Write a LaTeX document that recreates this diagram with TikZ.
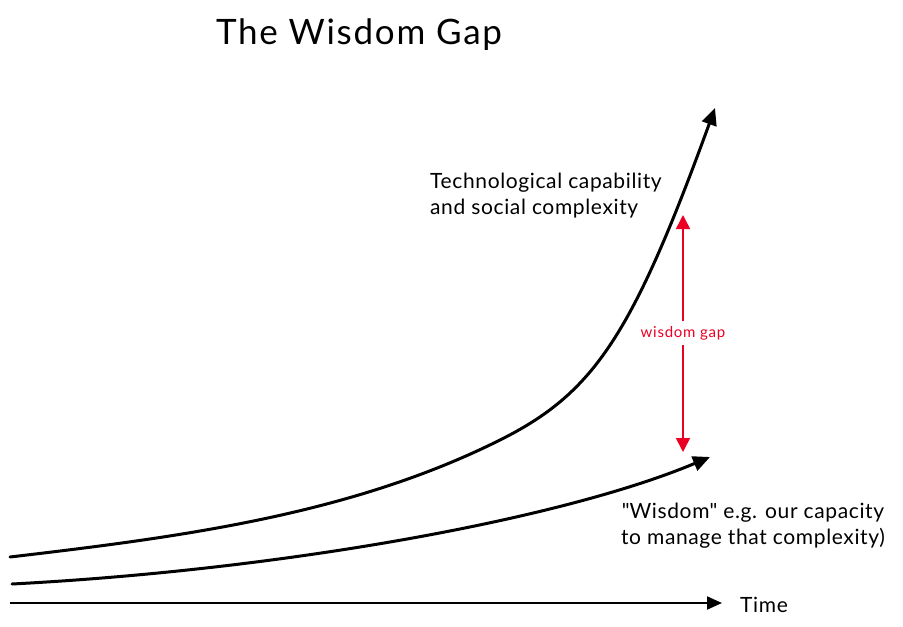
\documentclass[tikz,border=0pt]{standalone}
\usepackage{fontspec}
\setmainfont{Lato}
\usepackage{tikz}
\usetikzlibrary{arrows.meta}
\definecolor{gapred}{RGB}{235,0,35}
\tikzset{
  hand_text/.style = {inner sep=0pt,
    font=\addfontfeature{LetterSpace=3}\fontsize{21}{26}\selectfont},
  title_text/.style = {inner sep=0pt,
    font=\addfontfeature{LetterSpace=5}\fontsize{35}{40}\selectfont},
  gap_text/.style = {inner xsep=2pt, inner ysep=5pt, text=gapred,
    font=\addfontfeature{LetterSpace=5}\fontsize{15}{17}\selectfont},% libelle rouge
  trend_line/.style = {line width=3pt, line cap=round,
    -{Triangle[length=17pt,width=15pt]}},
  axis_line/.style = {line width=2pt, -{Triangle[length=15pt,width=13pt]}},
  gap_line/.style = {gapred, line width=1.6pt,
    -{Triangle[length=14pt,width=14pt]}}% ecart rouge
}

\begin{document}
\begin{tikzpicture}[x=1pt, y=-1pt]
  \useasboundingbox (0,0) rectangle (903,627);
  \node [title_text] (title) at (359,35) {The Wisdom Gap};
  % courbes
  \coordinate (tech_start) at (10,557);
  \coordinate (tech_bend) at (500,440);
  \coordinate (tech_end) at (715,108);
  \coordinate (wis_start) at (12,584);
  \coordinate (wis_end) at (710,457);
  \coordinate (time_start) at (10,603);
  \coordinate (time_end) at (722,603);
  \draw [trend_line] (tech_start) .. controls (180,537) and (350,515) .. (tech_bend)
      .. controls (594,393) and (632,336) .. (tech_end);
  \draw [trend_line] (wis_start) .. controls (280,570) and (560,520) .. (wis_end);
  \draw [axis_line] (time_start) -- (time_end);
  % textes
  \node [hand_text, align=left, anchor=west] (tech_lbl) at (430,196)
      {Technological capability\\and social complexity};
  \node [hand_text, align=center] (wis_lbl) at (753,526)
      {\textquotedbl Wisdom\textquotedbl{} e.g. our capacity\\to manage that complexity)};
  \node [hand_text, anchor=west] (time_lbl) at (740,605) {Time};
  % ecart
  \node [gap_text] (gap_lbl) at (683,333) {wisdom gap};
  \coordinate (gap_top) at (683,215);
  \coordinate (gap_bot) at (683,452);
  \draw [gap_line] (gap_lbl) -- (gap_top);
  \draw [gap_line] (gap_lbl) -- (gap_bot);
\end{tikzpicture}
\end{document}
